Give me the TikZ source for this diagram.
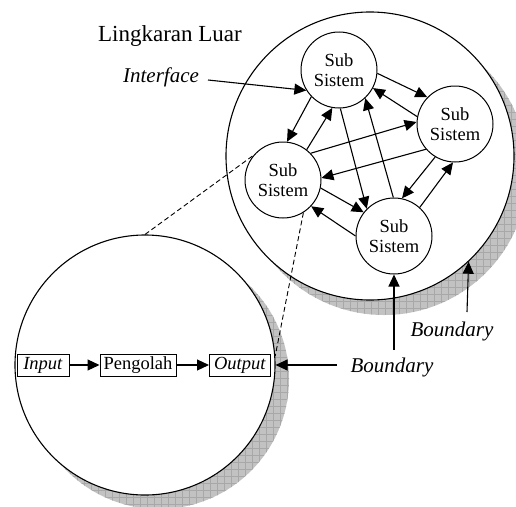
\documentclass[tikz,border=0pt]{standalone}
\usepackage{fontspec}
\setmainfont{Liberation Serif}
\usetikzlibrary{arrows.meta,calc}
\begin{document}
\begin{tikzpicture}[x=1pt,y=-1pt,
  ss/.style={circle,draw,line width=1pt,fill=white,minimum size=76pt,inner sep=0pt,align=center,font=\fontsize{18.5}{20}\selectfont},
  bigc/.style={circle,draw,line width=1.1pt,fill=white,inner sep=0pt},
  arr/.style={line width=1.1pt,-{Triangle[length=12pt,width=11pt]}},
  box/.style={draw,line width=1pt,minimum height=22pt,inner sep=0pt,font=\fontsize{18.5}{20}\selectfont},
  lab/.style={inner sep=0pt,anchor=base,font=\fontsize{21}{24}\selectfont\itshape},
  ttl/.style={inner sep=0pt,anchor=base,font=\fontsize{23}{26}\selectfont},
  dashline/.style={line width=0.9pt,dash pattern=on 5pt off 3pt},
  shadefill/.style={fill=gray!48},
  shadegrid/.style={draw=gray!68,line width=0.5pt}
]
\useasboundingbox (0,0) rectangle (516,506);
% shadows
\begin{scope}
  \clip (384,171) circle[radius=144pt];
  \fill[shadefill] (230,20) rectangle (530,330);
  \draw[shadegrid,step=7pt] (231,21) grid (529,329);
\end{scope}
\begin{scope}
  \clip (159,379) circle[radius=130pt];
  \fill[shadefill] (20,240) rectangle (300,520);
  \draw[shadegrid,step=7pt] (21,241) grid (300,520);
\end{scope}
% big circles
\node[bigc,minimum size=288pt] (outer) at (370,156) {};
\node[bigc,minimum size=260pt] (sys) at (145,365) {};
% sub systems
\node[ss] (top) at (339,70) {Sub\\Sistem};
\node[ss] (right) at (455,124) {Sub\\Sistem};
\node[ss] (left) at (283,180) {Sub\\Sistem};
\node[ss] (bot) at (394,236) {Sub\\Sistem};
% arrows between sub systems
\draw[arr] (top.-5) -- (right.136);
\draw[arr] (right.169) -- (top.-28);
\draw[arr] (top.-136) -- (left.84);
\draw[arr] (left.52) -- (top.-100);
\draw[arr] (left.44) -- (right.177);
\draw[arr] (right.-139) -- (left.3);
\draw[arr] (top.-88) -- (bot.135);
\draw[arr] (bot.91) -- (top.-47);
\draw[arr] (left.-12) -- (bot.142);
\draw[arr] (bot.180) -- (left.-43);
\draw[arr] (right.-121) -- (bot.78);
\draw[arr] (bot.48) -- (right.-93);
% dashed zoom lines
\draw[dashline] (sys.north) -- (left.140);
\draw[dashline] (left.-58) -- (sys.4);
% inner process
\node[box,minimum width=52pt] (in) at (43,365) {\textit{Input}};
\node[box,minimum width=76pt] (proc) at (138,365) {Pengolah};
\node[box,minimum width=61pt] (out) at (240,365) {\textit{Output}};
\draw[arr] (in) -- (proc);
\draw[arr] (proc) -- (out);
% labels
\node[ttl] (title) at (170,41) {Lingkaran Luar};
\node[lab] (iface) at (161,82) {Interface};
\node[lab] (bnd1) at (452,336) {Boundary};
\node[lab] (bnd2) at (392,372) {Boundary};
\coordinate (ifs) at (208,80);
\coordinate (b1s) at (467,312);
\coordinate (b2s) at (394,350);
\coordinate (b3s) at (337,365);
\draw[arr] (ifs) -- (top.212);
\draw[arr] (b1s) -- (outer.-47.6);
\draw[arr] (b2s) -- (bot.south);
\draw[arr] (b3s) -- (sys.east);
\end{tikzpicture}
\end{document}
